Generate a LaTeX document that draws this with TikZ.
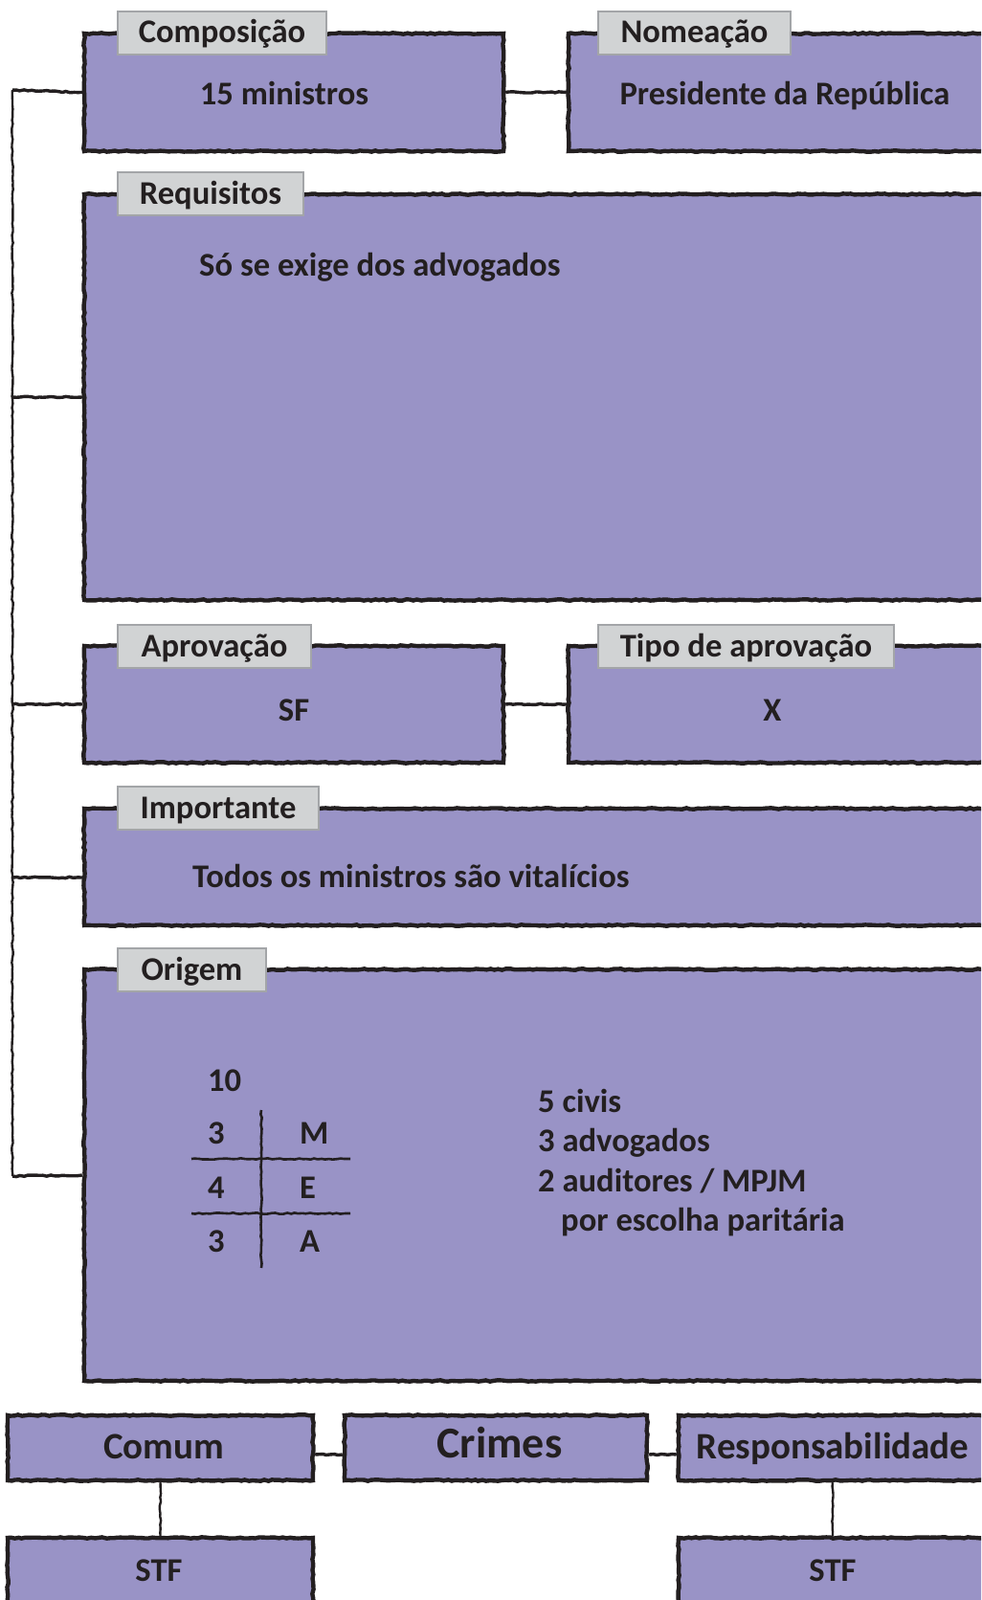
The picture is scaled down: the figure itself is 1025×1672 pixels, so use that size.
\documentclass[tikz,border=0pt]{standalone}
\usepackage{fontspec}
\setmainfont{Carlito}
\usetikzlibrary{decorations.pathmorphing}
\definecolor{boxfill}{HTML}{9993C6}
\definecolor{tabfill}{HTML}{D1D3D4}
\definecolor{tabline}{HTML}{A3A5A8}
\definecolor{ink}{HTML}{231F20}
\newcommand\fbody{\fontsize{34.6}{41}\selectfont\bfseries}
\newcommand\fmid{\fontsize{39}{45}\selectfont\bfseries}
\newcommand\fbig{\fontsize{46}{52}\selectfont\bfseries}
\begin{document}
\begin{tikzpicture}[x=1pt,y=-1pt,
  rough/.style={decorate, decoration={random steps, segment length=4pt, amplitude=0.7pt}},
  box/.style={rough, draw=ink, fill=boxfill, line width=4.4pt, inner sep=0pt},
  tab/.style={draw=tabline, fill=tabfill, line width=2pt, inner sep=0pt, text=ink, font=\fbody, text height=23pt, text depth=2pt, minimum height=45pt},
  txt/.style={inner sep=0pt, text=ink, font=\fbody},
  conn/.style={rough, draw=ink, line width=3.4pt},
  bus/.style={rough, draw=ink, line width=2.4pt},
  grid/.style={rough, draw=ink, line width=2.6pt},
]
\useasboundingbox (0,0) rectangle (1025,1672);
\clip (0,0) rectangle (1025,1672);
\fill[white] (0,0) rectangle (1025,1672);

% boxes
\node[box, minimum width=438pt, minimum height=123pt] (comp) at (307,96.5) {};
\node[box, minimum width=451pt, minimum height=123pt] (nome) at (819.5,96.5) {};
\node[box, minimum width=957pt, minimum height=424pt] (req) at (566.5,415) {};
\node[box, minimum width=438pt, minimum height=122pt] (aprov) at (307,736) {};
\node[box, minimum width=451pt, minimum height=122pt] (tipo) at (819.5,736) {};
\node[box, minimum width=957pt, minimum height=122pt] (imp) at (566.5,906) {};
\node[box, minimum width=957pt, minimum height=430pt] (orig) at (566.5,1228) {};
\node[box, minimum width=319pt, minimum height=68pt] (comum) at (167.5,1513) {};
\node[box, minimum width=316pt, minimum height=68pt] (crimes) at (518,1513) {};
\node[box, minimum width=322pt, minimum height=68pt] (resp) at (870,1513) {};
\node[box, minimum width=319pt, minimum height=110pt] (stfa) at (167.5,1662) {};
\node[box, minimum width=322pt, minimum height=110pt] (stfb) at (870,1662) {};

% connectors
\coordinate (bt) at (13,94);
\coordinate (bb) at (13,1229);
\draw[bus] (bt) -- (bb);
\draw[conn] (bt) -- (comp.west);
\draw[conn] (req.west -| bt) -- (req.west);
\draw[conn] (aprov.west -| bt) -- (aprov.west);
\draw[conn] (bt |- 0,917) -- (imp.west |- 0,917);
\draw[conn] (bb) -- (orig.west);
\draw[conn] (comp.east) -- (nome.west);
\draw[conn] (aprov.east) -- (tipo.west);
\draw[conn] ([yshift=-7pt]comum.east) -- ([yshift=-7pt]crimes.west);
\draw[conn] ([yshift=-7pt]crimes.east) -- ([yshift=-7pt]resp.west);
\draw[bus] (comum.south) -- (stfa.north);
\draw[bus] (resp.south) -- (stfb.north);

% tabs
\node[tab, minimum width=218pt] (tcomp) at (232,34.5) {Composição};
\node[tab, minimum width=201pt] (tnome) at (725.5,34.5) {Nomeação};
\node[tab, minimum width=194pt] (treq) at (220,202.5) {Requisitos};
\node[tab, minimum width=202pt] (taprov) at (224,675.5) {Aprovação};
\node[tab, minimum width=309pt] (ttipo) at (779.5,675.5) {Tipo de aprovação};
\node[tab, minimum width=210pt] (timp) at (228,844.5) {Importante};
\node[tab, minimum width=155pt] (torig) at (200.5,1013.5) {Origem};

% texts
\node[txt, anchor=base] (t1) at (297,110) {15 ministros};
\node[txt, anchor=base] (t2) at (820,110) {Presidente da República};
\node[txt, anchor=base west] (t3) at (208,288) {Só se exige dos advogados};
\node[txt, anchor=base] (t4) at (307,753) {SF};
\node[txt, anchor=base] (t5) at (807,753) {X};
\node[txt, anchor=base west] (t6) at (201,927) {Todos os ministros são vitalícios};

% origem table
\node[txt, anchor=base west] (o10) at (217,1140) {10};
\node[txt, anchor=base west] (o3a) at (217,1195) {3};
\node[txt, anchor=base west] (o4) at (217,1252) {4};
\node[txt, anchor=base west] (o3b) at (217,1308) {3};
\node[txt, anchor=base west] (oM) at (313,1195) {M};
\node[txt, anchor=base west] (oE) at (313,1252) {E};
\node[txt, anchor=base west] (oA) at (313,1308) {A};
\draw[grid] (273,1160) -- (273,1325);
\draw[grid] (200,1211) -- (366,1211);
\draw[grid] (200,1268) -- (366,1268);

\node[txt, anchor=base west] (r1) at (562,1162) {5 civis};
\node[txt, anchor=base west] (r2) at (562,1203) {3 advogados};
\node[txt, anchor=base west] (r3) at (562,1245) {2 auditores / MPJM};
\node[txt, anchor=base west] (r4) at (586,1286) {por escolha paritária};

% bottom
\node[txt, font=\fmid, anchor=base] (b1) at (171,1524) {Comum};
\node[txt, font=\fbig, anchor=base] (b2) at (522,1523) {Crimes};
\node[txt, font=\fmid, anchor=base] (b3) at (870,1524) {Responsabilidade};
\node[txt, anchor=base] (b4) at (166,1652) {STF};
\node[txt, anchor=base] (b5) at (870,1652) {STF};
\end{tikzpicture}
\end{document}
